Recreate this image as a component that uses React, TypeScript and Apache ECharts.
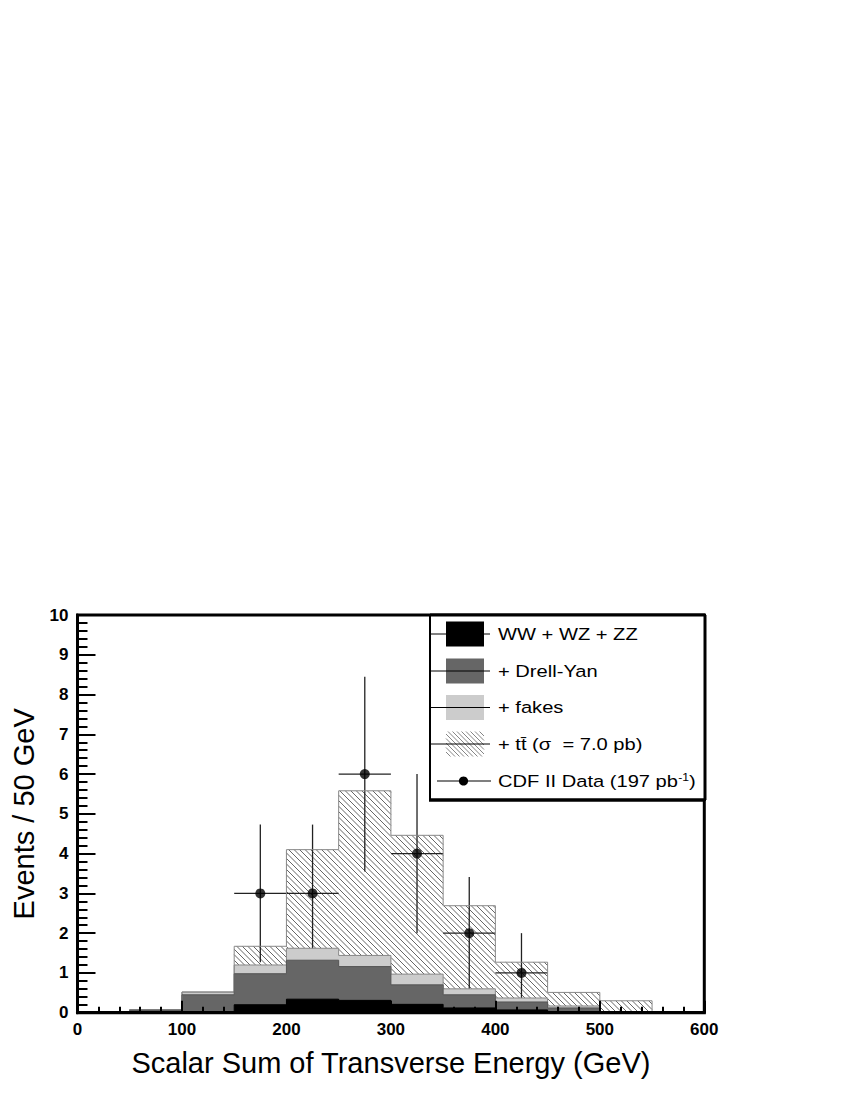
import React, { useEffect, useRef } from "react";
import * as echarts from "echarts";

// ---- data ----
const binEdges = [0, 50, 100, 150, 200, 250, 300, 350, 400, 450, 500, 550, 600];
// cumulative stack tops per 50 GeV bin
const wwwzzz = [0, 0.0, 0.02, 0.2, 0.34, 0.31, 0.21, 0.12, 0.07, 0.03, 0.01, 0];
const plusDrellYan = [0, 0.06, 0.45, 0.98, 1.32, 1.16, 0.7, 0.45, 0.27, 0.12, 0.02, 0];
const plusFakes = [0, 0.08, 0.52, 1.2, 1.62, 1.44, 0.97, 0.6, 0.37, 0.17, 0.03, 0];
const plusTtbar = [0, 0.08, 0.52, 1.67, 4.1, 5.58, 4.46, 2.69, 1.27, 0.51, 0.3, 0];

const dataX = [175, 225, 275, 325, 375, 425];
const dataY = [3, 3, 6, 4, 2, 1];
const dataErrLow = [1.27, 1.27, 3.55, 2.0, 0.59, 0.0];
const dataErrHigh = [4.73, 4.73, 8.45, 6.0, 3.41, 2.0];
const dataBinLow = [150, 200, 250, 300, 350, 400];
const dataBinHigh = [200, 250, 300, 350, 400, 450];

const xTicks = [0, 100, 200, 300, 400, 500, 600];
const yTicks = [0, 1, 2, 3, 4, 5, 6, 7, 8, 9, 10];

const legendLabels = [
  "WW + WZ + ZZ",
  "+ Drell-Yan",
  "+ fakes",
  "+ tt\u0304 (σ  = 7.0 pb)",
  "CDF II Data (197 pb{sup|-1})",
];

const FONT = "'Liberation Sans', Arial, Helvetica, sans-serif";
const HATCH = 5.5;

function hatchSegments(xL: number, yT: number, xR: number, yB: number, s: number) {
  const segs: number[][] = [];
  const cMin = Math.ceil((xL - yB) / s) * s;
  for (let c = cMin; c <= xR - yT; c += s) {
    const xs = Math.max(xL, yT + c);
    const xe = Math.min(xR, yB + c);
    if (xe > xs) segs.push([xs, xs - c, xe, xe - c]);
  }
  return segs;
}

function stepData(vals: number[]) {
  const pts = vals.map((v, i) => [binEdges[i], v]);
  pts.push([binEdges[binEdges.length - 1], vals[vals.length - 1]]);
  return pts;
}

export default function App() {
  const ref = useRef<HTMLDivElement>(null);
  useEffect(() => {
    if (!ref.current) return;
    const chart = echarts.init(ref.current, null, { renderer: "svg" });

    const hatchData = plusTtbar
      .map((t, i) => [binEdges[i], binEdges[i + 1], plusFakes[i], t])
      .filter((d) => d[3] > d[2]);

    const errData = dataX.map((x, i) => [x, dataY[i], dataErrLow[i], dataErrHigh[i], dataBinLow[i], dataBinHigh[i]]);

    // legend graphics
    const LX = 430, LY = 615, LW = 275, LH = 185;
    const rowY = [634, 671, 707.5, 744, 781];
    const boxX = 446, boxW = 38, boxH = 25;
    const legendEls: any[] = [
      {
        type: "rect",
        z: 100,
        shape: { x: LX, y: LY, width: LW, height: LH },
        style: { fill: "#fff", stroke: "#000", lineWidth: 2 },
      },
      {
        type: "line",
        z: 101,
        shape: { x1: LX - 1, y1: LY + LH, x2: LX + LW, y2: LY + LH },
        style: { stroke: "#000", lineWidth: 3.5 },
      },
      {
        type: "line",
        z: 101,
        shape: { x1: LX + LW, y1: LY, x2: LX + LW, y2: LY + LH },
        style: { stroke: "#000", lineWidth: 3 },
      },
      {
        type: "line",
        z: 101,
        shape: { x1: LX, y1: LY, x2: LX + LW, y2: LY },
        style: { stroke: "#000", lineWidth: 3 },
      },
    ];
    const boxFills = ["#000", "#666", "#ccc"];
    boxFills.forEach((f, i) => {
      legendEls.push({
        type: "rect",
        z: 101,
        shape: { x: boxX, y: rowY[i] - boxH / 2, width: boxW, height: boxH },
        style: { fill: f },
      });
    });
    hatchSegments(boxX, rowY[3] - boxH / 2, boxX + boxW, rowY[3] + boxH / 2, 4.5).forEach((s) => {
      legendEls.push({
        type: "line",
        z: 101,
        shape: { x1: s[0], y1: s[1], x2: s[2], y2: s[3] },
        style: { stroke: "#777", lineWidth: 0.9 },
      });
    });
    for (let i = 0; i < 4; i++) {
      legendEls.push({
        type: "line",
        z: 102,
        shape: { x1: 431, y1: rowY[i], x2: 490, y2: rowY[i] },
        style: { stroke: "#000", lineWidth: 1 },
      });
    }
    legendEls.push({
      type: "line",
      z: 102,
      shape: { x1: 437, y1: rowY[4], x2: 491, y2: rowY[4] },
      style: { stroke: "#000", lineWidth: 1.2 },
    });
    legendEls.push({
      type: "circle",
      z: 103,
      shape: { cx: 463.5, cy: rowY[4], r: 4.6 },
      style: { fill: "#000" },
    });
    legendLabels.forEach((t, i) => {
      legendEls.push({
        type: "text",
        z: 103,
        x: 498,
        y: rowY[i],
        scaleX: 1.22,
        style: {
          text: t,
          fontFamily: FONT,
          fontSize: 16.5,
          fill: "#000",
          align: "left",
          verticalAlign: "middle",
          rich: {
            sup: { fontSize: 10, fontFamily: FONT, fill: "#000", verticalAlign: "top", padding: [0, 0, 6, 0] },
          },
        },
      });
    });

    const option: any = {
      animation: false,
      backgroundColor: "#fff",
      grid: {
        left: 77.5,
        right: 140.7,
        top: 615,
        bottom: 80.3,
        show: true,
        borderColor: "#000",
        borderWidth: 3,
        backgroundColor: "transparent",
      },
      xAxis: {
        type: "value",
        min: xTicks[0],
        max: xTicks[xTicks.length - 1],
        interval: 100,
        z: 10,
        axisLine: { show: true, onZero: false, lineStyle: { color: "#000", width: 3 } },
        axisTick: { show: true, inside: true, length: 12, lineStyle: { color: "#000", width: 2 } },
        minorTick: { show: true, splitNumber: 5, length: 6, lineStyle: { color: "#000", width: 2 } },
        splitLine: { show: false },
        axisLabel: { fontFamily: FONT, fontWeight: "bold", fontSize: 17, color: "#000", margin: 8 },
        name: "Scalar Sum of Transverse Energy (GeV)",
        nameLocation: "middle",
        nameGap: 36,
        nameTextStyle: { fontFamily: FONT, fontSize: 29, color: "#000" },
      },
      yAxis: {
        type: "value",
        min: yTicks[0],
        max: yTicks[yTicks.length - 1],
        interval: 1,
        z: 10,
        axisLine: { show: true, onZero: false, lineStyle: { color: "#000", width: 3 } },
        axisTick: { show: true, inside: true, length: 18, lineStyle: { color: "#000", width: 2 } },
        minorTick: { show: true, splitNumber: 5, length: 10, lineStyle: { color: "#000", width: 2 } },
        splitLine: { show: false },
        axisLabel: { fontFamily: FONT, fontWeight: "bold", fontSize: 17, color: "#000", margin: 9 },
        name: "Events / 50 GeV",
        nameLocation: "middle",
        nameRotate: 90,
        nameGap: 38,
        nameTextStyle: { fontFamily: FONT, fontSize: 29, color: "#000" },
      },
      series: [
        {
          type: "custom",
          name: "ttbar hatch",
          data: hatchData,
          silent: true,
          renderItem: (params: any, api: any) => {
            const p0 = api.coord([api.value(0), api.value(3)]);
            const p1 = api.coord([api.value(1), api.value(2)]);
            const segs = hatchSegments(p0[0], p0[1], p1[0], p1[1], HATCH);
            return {
              type: "group",
              children: segs.map((s) => ({
                type: "line",
                shape: { x1: s[0], y1: s[1], x2: s[2], y2: s[3] },
                style: { stroke: "#666", lineWidth: 1 },
              })),
            };
          },
        },
        {
          type: "line",
          name: "+ ttbar",
          step: "end",
          symbol: "none",
          data: stepData(plusTtbar),
          lineStyle: { color: "#888", width: 1 },
        },
        {
          type: "line",
          name: "+ fakes",
          step: "end",
          symbol: "none",
          data: stepData(plusFakes),
          lineStyle: { color: "#888", width: 1 },
          areaStyle: { color: "#cccccc", opacity: 1 },
        },
        {
          type: "line",
          name: "+ Drell-Yan",
          step: "end",
          symbol: "none",
          data: stepData(plusDrellYan),
          lineStyle: { color: "#555", width: 1 },
          areaStyle: { color: "#666666", opacity: 1 },
        },
        {
          type: "line",
          name: "WW + WZ + ZZ",
          step: "end",
          symbol: "none",
          data: stepData(wwwzzz),
          lineStyle: { color: "#000", width: 1 },
          areaStyle: { color: "#000", opacity: 1 },
        },
        {
          type: "custom",
          name: "data errors",
          data: errData,
          silent: true,
          renderItem: (params: any, api: any) => {
            const x = api.value(0), y = api.value(1);
            const pLo = api.coord([x, api.value(2)]);
            const pHi = api.coord([x, api.value(3)]);
            const pL = api.coord([api.value(4), y]);
            const pR = api.coord([api.value(5), y]);
            return {
              type: "group",
              children: [
                { type: "line", shape: { x1: pLo[0], y1: pLo[1], x2: pHi[0], y2: pHi[1] }, style: { stroke: "#222", lineWidth: 1.3 } },
                { type: "line", shape: { x1: pL[0], y1: pL[1], x2: pR[0], y2: pR[1] }, style: { stroke: "#222", lineWidth: 1.3 } },
              ],
            };
          },
        },
        {
          type: "scatter",
          name: "CDF II Data",
          symbol: "circle",
          symbolSize: 10,
          itemStyle: { color: "#000" },
          data: dataX.map((x, i) => [x, dataY[i]]),
        },
      ],
      graphic: legendEls,
    };
    chart.setOption(option);
    return () => chart.dispose();
  }, []);
  return <div ref={ref} style={{ position: "absolute", left: 0, top: 0, width: 845, height: 1093 }} />;
}
